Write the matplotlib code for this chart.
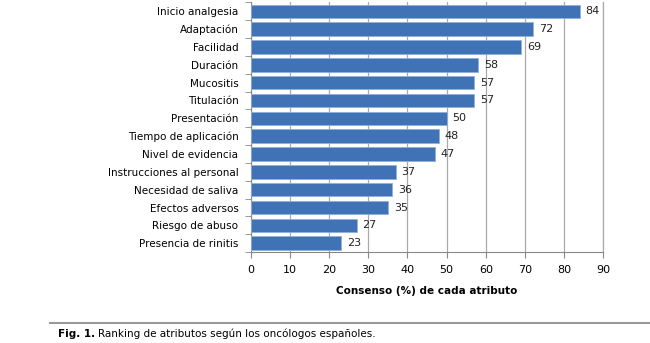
import matplotlib
matplotlib.use('Agg')
from matplotlib import pyplot as plt
from matplotlib.lines import Line2D

plt.rcParams['font.family'] = 'DejaVu Sans'

atributos = ['Inicio analgesia', 'Adaptación', 'Facilidad', 'Duración', 'Mucositis',
             'Titulación', 'Presentación', 'Tiempo de aplicación', 'Nivel de evidencia',
             'Instrucciones al personal', 'Necesidad de saliva', 'Efectos adversos',
             'Riesgo de abuso', 'Presencia de rinitis']
consenso = [84, 72, 69, 58, 57, 57, 50, 48, 47, 37, 36, 35, 27, 23]
xticks = [0, 10, 20, 30, 40, 50, 60, 70, 80, 90]

fig = plt.figure(figsize=(6.5, 3.43), dpi=100)
ax = fig.add_axes([0.386, 0.265, 0.542, 0.728])

pos = list(range(len(atributos)))
ax.barh(pos, consenso, height=0.75, color='#3F73B5', edgecolor='#8FB0DC',
        linewidth=0.6, zorder=3)
for p, v in zip(pos, consenso):
    ax.text(v + 1.5, p, str(v), va='center', ha='left', fontsize=8, color='#222222')

ax.set_ylim(len(atributos) - 0.5, -0.5)
ax.set_xlim(0, 90)
ax.set_yticks(pos)
ax.set_yticklabels(atributos, fontsize=7.5)
ax.set_xticks(xticks)
ax.set_xticklabels([str(t) for t in xticks], fontsize=8)
ax.set_yticks([p + 0.5 for p in [-1] + pos], minor=True)
ax.tick_params(axis='y', which='major', length=0, pad=9)
ax.tick_params(axis='y', which='minor', length=4, color='#888888')
ax.tick_params(axis='x', length=4, color='#888888', pad=5)
ax.grid(axis='x', color='#AAAAAA', linewidth=0.9, zorder=0)
# last gridline sits on the axes edge, draw it unclipped
ax.axvline(90, color='#AAAAAA', linewidth=0.9, zorder=0, clip_on=False)
for s in ['top', 'right']:
    ax.spines[s].set_visible(False)
ax.spines['left'].set_color('#888888')
ax.spines['bottom'].set_color('#888888')
ax.set_xlabel('Consenso (%) de cada atributo', fontsize=7.5, fontweight='bold', labelpad=8)

fig.add_artist(Line2D([0.077, 1.0], [0.058, 0.058], transform=fig.transFigure,
                      color='#999999', linewidth=1.5))
fig.text(0.090, 0.027, 'Fig. 1.', fontsize=7.5, fontweight='bold', va='center')
fig.text(0.150, 0.027, 'Ranking de atributos según los oncólogos españoles.',
         fontsize=7.5, va='center')

fig.savefig('out.png', dpi=100)
